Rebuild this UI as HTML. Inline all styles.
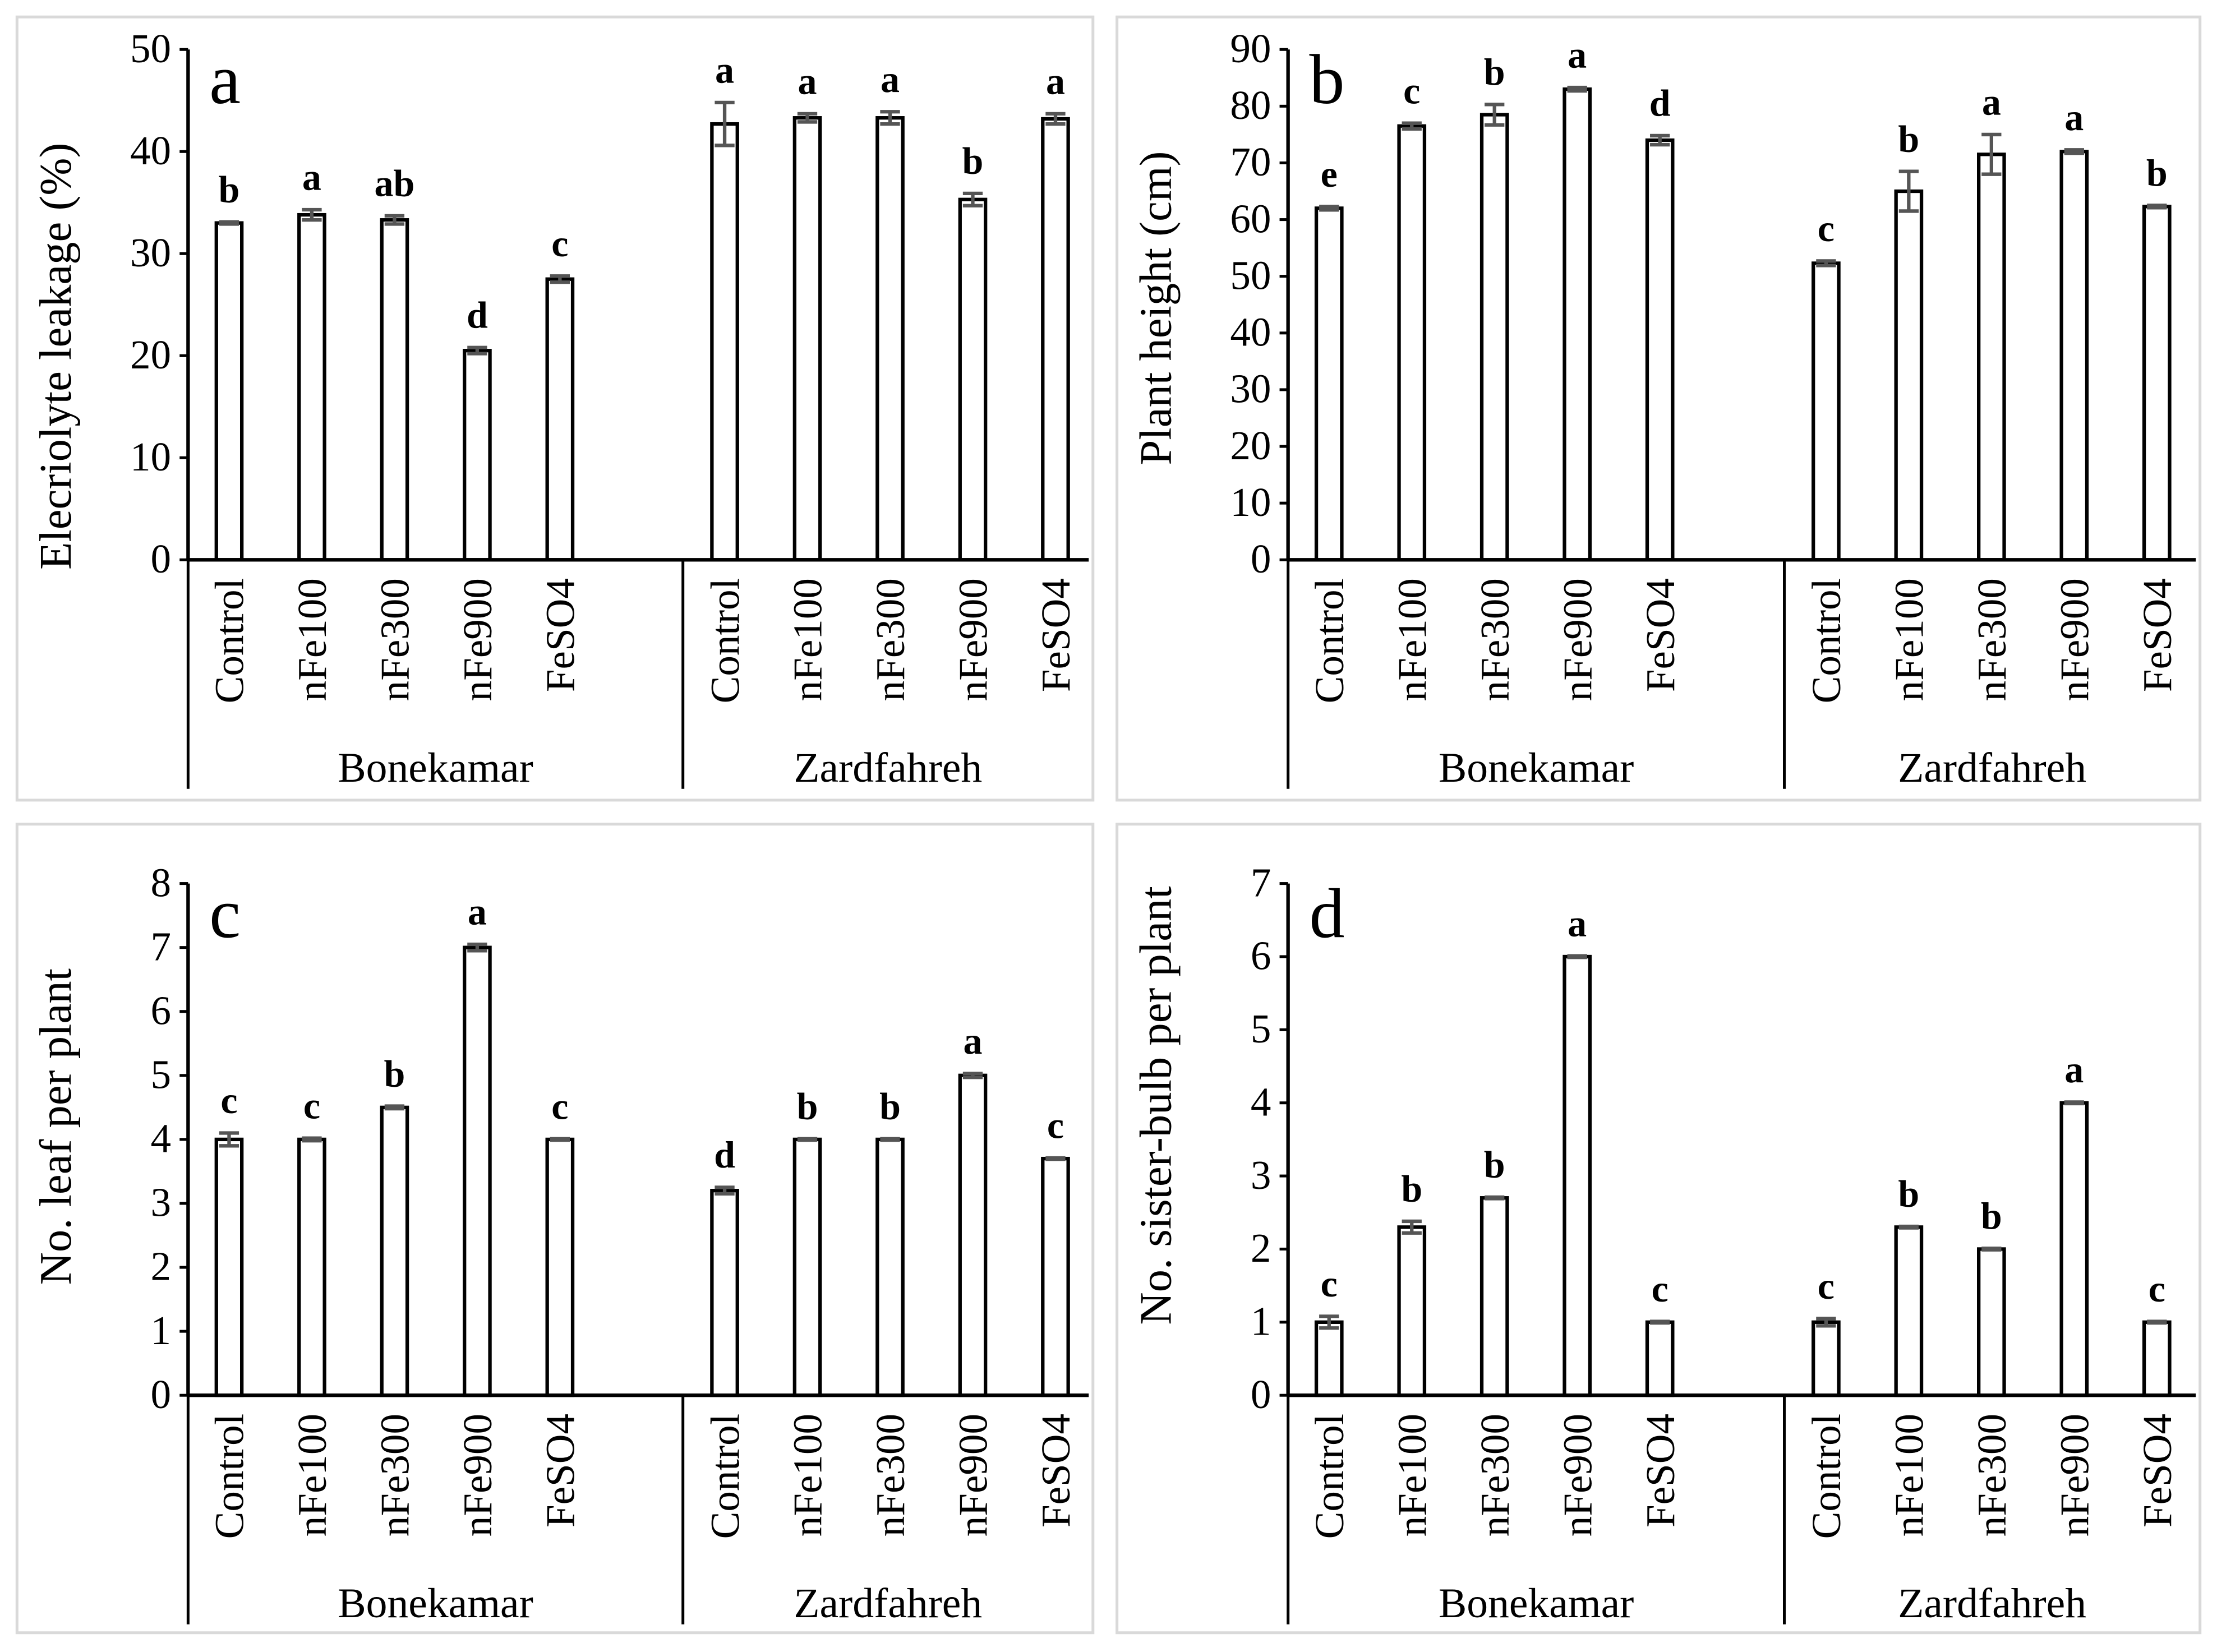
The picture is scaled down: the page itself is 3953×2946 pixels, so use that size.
<!DOCTYPE html>
<html><head><meta charset="utf-8"><style>
html,body{margin:0;padding:0;background:#fff;}
svg{display:block;}
text{font-family:"Liberation Serif",serif;fill:#000;}
</style></head><body>
<svg id="fig" width="3953" height="2946" viewBox="0 0 1568 1168.6" xmlns="http://www.w3.org/2000/svg"></svg>
<script>
const categories = ["Control","nFe100","nFe300","nFe900","FeSO4"];
const groups = ["Bonekamar","Zardfahreh"];
// panel a
const aVals = [33,33.8,33.3,20.5,27.5, 42.7,43.3,43.3,35.3,43.2];
const aErr = [0.1,0.5,0.4,0.3,0.3, 2.1,0.4,0.6,0.6,0.5];
const aLet = ["b","a","ab","d","c","a","a","a","b","a"];
const aTicks = [0,10,20,30,40,50];
// panel b
const bVals = [62,76.5,78.5,83,74, 52.3,65,71.5,72,62.3];
const bErr = [0.3,0.5,1.8,0.3,0.8, 0.4,3.5,3.5,0.3,0.2];
const bLet = ["e","c","b","a","d","c","b","a","a","b"];
const bTicks = [0,10,20,30,40,50,60,70,80,90];
// panel c
const cVals = [4,4,4.5,7,4, 3.2,4,4,5,3.7];
const cErr = [0.1,0.02,0.02,0.05,0.01, 0.05,0.01,0.01,0.03,0.01];
const cLet = ["c","c","b","a","c","d","b","b","a","c"];
const cTicks = [0,1,2,3,4,5,6,7,8];
// panel d
const dVals = [1,2.3,2.7,6,1, 1,2.3,2,4,1];
const dErr = [0.08,0.08,0.01,0.01,0.01, 0.05,0.01,0.01,0.01,0.01];
const dLet = ["c","b","b","a","c","c","b","b","a","c"];
const dTicks = [0,1,2,3,4,5,6,7];

const svg = document.getElementById('fig');
const NS = "http://www.w3.org/2000/svg";
function mk(tag, attrs, parent){const e=document.createElementNS(NS,tag);for(const k in attrs)e.setAttribute(k,attrs[k]);(parent||svg).appendChild(e);return e;}

function panel(p){
  const g = mk('g',{});
  
  
  const fr = mk('rect',{x:p.fx,y:p.fy,width:p.fw,height:p.fh,fill:'none',stroke:'#d9d9d9','stroke-width':2},g);
  
  
  const ax = p.ax, y0 = p.y0, yTop = p.yTop, max = p.ticks[p.ticks.length-1];
  const Y = v => y0 - (v/max)*(y0-yTop);
  const X = i => (i<5 ? p.b0 : p.z0) + (i%5)*58.5;
  p.ticks.forEach(t=>{
    const tl = mk('line',{x1:ax-6,x2:ax,y1:Y(t),y2:Y(t),stroke:'#000','stroke-width':2},g);
    
    
    const tx = mk('text',{x:ax-12,y:Y(t)+9,'text-anchor':'end','font-size':29},g);
    tx.textContent = t;
    
    
  });
  p.vals.forEach((v,i)=>{
    const cx = X(i);
    const r = mk('rect',{x:cx-9,y:Y(v),width:18,height:y0-Y(v),fill:'#fff',stroke:'#000','stroke-width':2.5},g);
    
    
    const e = p.err[i], yt = Y(v+e), yb = Y(v-e);
    const eb = mk('path',{d:`M${cx},${yt}V${yb}M${cx-7},${yt}H${cx+7}M${cx-7},${yb}H${cx+7}`,stroke:'#555','stroke-width':2.5,fill:'none'},g);
    
    
    const lt = mk('text',{x:cx,y:yt-14,'text-anchor':'middle','font-size':27,'font-weight':'bold'},g);
    lt.textContent = p.lets[i];
    
    
    const cl = mk('text',{x:0,y:0,'text-anchor':'end','font-size':29,transform:`translate(${cx+10},${y0+13}) rotate(-90)`},g);
    cl.textContent = categories[i%5];
    
    
  });
  const ya = mk('line',{x1:ax,x2:ax,y1:yTop,y2:y0,stroke:'#000','stroke-width':2.5},g);
  
  
  const xa = mk('line',{x1:ax,x2:p.fx+p.fw-3,y1:y0,y2:y0,stroke:'#000','stroke-width':2.5},g);
  
  
  [ax, p.sep].forEach(sx=>{
    const s = mk('line',{x1:sx,x2:sx,y1:y0,y2:y0+162,stroke:'#000','stroke-width':2},g);
    
    
  });
  [[groups[0],(ax+p.sep)/2],[groups[1],(p.sep+p.fx+p.fw)/2]].forEach(([n,gx])=>{
    const gt = mk('text',{x:gx,y:y0+157,'text-anchor':'middle','font-size':30},g);
    gt.textContent = n;
    
    
  });
  const yt = mk('text',{x:0,y:0,'text-anchor':'middle','font-size':32,transform:`translate(${p.fx+38},${p.tc}) rotate(-90)`},g);
  yt.textContent = p.title;
  
  
  const pl = mk('text',{x:ax+15,y:yTop+38,'font-size':50},g);
  pl.textContent = p.id;
  
  
}
panel({id:'a',fx:12,fy:12,fw:761,fh:554,ax:133,y0:396,yTop:35,b0:162,z0:512.5,sep:483,tc:252,ticks:aTicks,vals:aVals,err:aErr,lets:aLet,title:'Elecriolyte leakage (%)'});
panel({id:'b',fx:790,fy:12,fw:766,fh:554,ax:911,y0:396,yTop:35,b0:940,z0:1291.5,sep:1262,tc:218,ticks:bTicks,vals:bVals,err:bErr,lets:bLet,title:'Plant height (cm)'});
panel({id:'c',fx:12,fy:583,fw:761,fh:572,ax:133,y0:987,yTop:625,b0:162,z0:512.5,sep:483,tc:797,ticks:cTicks,vals:cVals,err:cErr,lets:cLet,title:'No. leaf per plant'});
panel({id:'d',fx:790,fy:583,fw:766,fh:572,ax:911,y0:987,yTop:625,b0:940,z0:1291.5,sep:1262,tc:782,ticks:dTicks,vals:dVals,err:dErr,lets:dLet,title:'No. sister-bulb per plant'});
</script>
</body></html>
